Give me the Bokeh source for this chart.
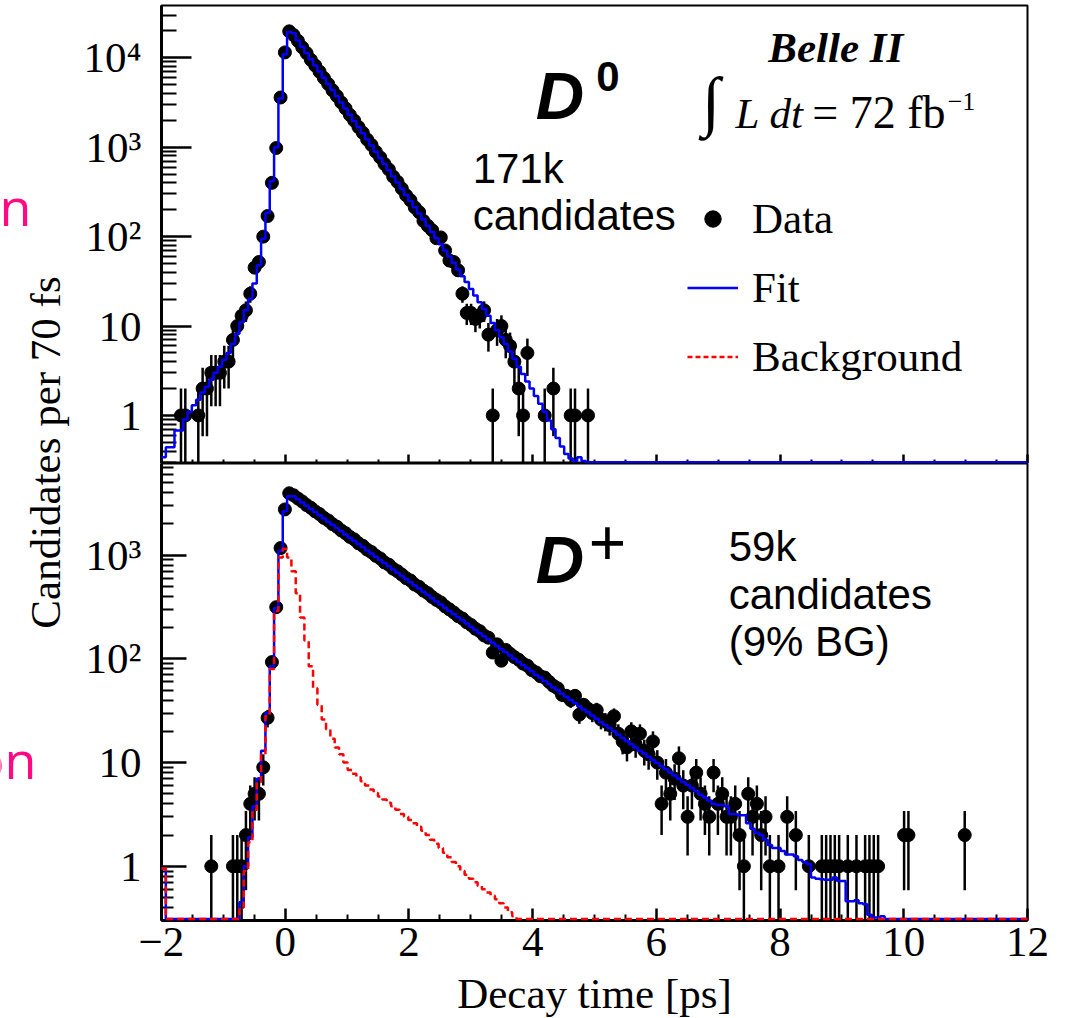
import numpy as np
from bokeh.plotting import figure
from bokeh.layouts import row, column
from bokeh.models import (Range1d, FixedTicker, Label, Legend, LegendItem,
                          ColumnDataSource)
from bokeh.core.properties import value
from bokeh.embed import file_html
from bokeh.resources import INLINE

# ---------------------------------------------------------------- data
t_range = (-2.0, 12.0)          # decay time axis [ps]
bin_width_ps = 0.07             # 70 fs bins
n_bins = 200

# D0 panel: candidates per bin (bins from -2 ps upward)
d0_counts = [
    0, 0, 0, 0, 1, 1, 0, 0, 1, 2,
    2, 3, 3, 3, 4, 4, 7, 10, 13, 15,
    23, 45, 52, 100, 170, 400, 980, 3600, 11500, 19800,
    18000, 15500, 13100, 11300, 9500, 8200, 7000, 5950, 5100, 4330,
    3740, 3170, 2720, 2300, 1990, 1680, 1450, 1220, 1060, 890,
    770, 650, 565, 470, 410, 345, 290, 255, 212, 188,
    150, 132, 118, 96, 98, 70, 54, 52, 42, 23,
    14, 14, 12, 13, 15, 8, 1, 9, 10, 7,
    6, 4, 2, 1, 5, 0, 0, 0, 1, 0,
    2, 0, 0, 0, 1, 1, 0, 0, 1, 0,
]
d0_fit = [
    0.34, 0.44, 0.44, 0.68, 0.68, 0.9, 1.1, 1.3, 1.5, 1.8,
    2.1, 2.5, 3.0, 3.5, 4.2, 5.0, 6.3, 8.2, 11, 15,
    20, 30, 48, 95, 185, 420, 1000, 3500, 11000, 19400,
    18800, 15600, 13300, 11300, 9650, 8230, 7020, 5990, 5110, 4360,
    3720, 3170, 2710, 2310, 1970, 1680, 1430, 1220, 1045, 890,
    760, 650, 553, 472, 403, 344, 293, 250, 213, 182,
    155, 132, 113, 96, 82, 70, 60, 51, 43, 36,
    31, 26, 22, 18.5, 15.5, 13, 10.8, 9.0, 7.5, 6.3,
    5.2, 4.3, 3.5, 2.9, 2.4, 2.0, 1.65, 1.35, 1.1, 0.88,
    0.70, 0.56, 0.45, 0.37, 0.33, 0.31, 0.34, 0.31, 0.26, 0.2,
]
d0_background = []   # below the axis minimum everywhere (lies on the frame bottom)

# D+ panel
dplus_counts = [
    0, 0, 0, 0, 0, 0, 0, 0, 0, 0,
    0, 1, 0, 0, 0, 0, 1, 1, 1, 2,
    4, 5, 5, 9, 27, 93, 315, 1170, 2760, 3950,
    3780, 3520, 3290, 3040, 2860, 2640, 2490, 2290, 2160, 1990,
    1880, 1730, 1630, 1500, 1420, 1300, 1230, 1130, 1070, 985,
    930, 850, 810, 740, 700, 650, 600, 570, 520, 495,
    455, 430, 395, 370, 350, 320, 300, 280, 258, 245,
    225, 212, 195, 185, 168, 160, 115, 138, 96, 122,
    112, 104, 98, 90, 86, 78, 74, 68, 66, 60,
    55, 52, 45, 44, 40, 44, 29, 36, 33, 30,
    32, 26, 25, 23, 28, 19, 16, 14, 20, 15,
    19, 13, 12, 16, 10, 4, 8, 5, 7, 11,
    6, 3, 6, 8, 5, 4, 3, 8, 4, 5,
    3, 3, 4, 2, 1, 5, 3, 4, 2, 3,
    1, 0, 1, 0, 3, 0, 2, 0, 0, 1,
    0, 0, 1, 1, 1, 1, 1, 0, 1, 0,
    1, 0, 1, 1, 1, 1, 0, 0, 0, 0,
    0, 2, 2, 0, 0, 0, 0, 0, 0, 0,
    0, 0, 0, 0, 0, 2, 0, 0, 0, 0,
    0, 0, 0, 0, 0, 0, 0, 0, 0, 0,
]
dplus_fit = [
    0.95, 0, 0, 0, 0, 0, 0, 0, 0, 0,
    0, 0, 0, 0, 0, 0, 0, 0, 0.45, 1.0,
    1.9, 3.8, 7, 13, 30, 85, 310, 1100, 2650, 3700,
    3700, 3450, 3210, 2990, 2790, 2600, 2420, 2260, 2100, 1960,
    1825, 1700, 1585, 1475, 1375, 1280, 1195, 1110, 1035, 965,
    900, 838, 781, 727, 678, 631, 588, 548, 511, 476,
    443, 413, 385, 358, 334, 311, 290, 270, 252, 235,
    219, 204, 190, 177, 165, 154, 143, 133, 124, 116,
    108, 100, 93, 87, 81, 76, 70, 66, 61, 57,
    53, 50, 46, 43, 40, 37.5, 35, 32.5, 30.5, 28.5,
    26.5, 24.5, 23, 21.5, 20, 18.5, 17.3, 16.1, 15, 14,
    13, 12.2, 11.4, 10.6, 9.9, 9.2, 8.6, 8.0, 7.5, 7.0,
    6.5, 6.1, 5.7, 5.3, 4.9, 4.6, 4.3, 4.0, 3.9, 3.9,
    3.8, 3.2, 3.2, 3.1, 3.1, 2.6, 2.3, 2.1, 2.0, 1.8,
    1.6, 1.5, 1.5, 1.4, 1.3, 1.3, 1.25, 1.15, 1.1, 1.05,
    0.78, 0.76, 0.75, 0.74, 0.74, 0.78, 0.72, 0.72, 0.46, 0.46,
    0.47, 0.44, 0.43, 0.34, 0.32, 0.32, 0.33, 0.31, 0.29, 0.27,
]
dplus_background = [
    0.95, 0, 0, 0, 0, 0, 0, 0, 0, 0,
    0, 0, 0, 0, 0, 0, 0, 0, 0.4, 0.9,
    1.7, 3.5, 6.5, 12, 28, 80, 290, 950, 1150, 950,
    700, 430, 250, 150, 85, 52, 36, 26, 21, 17,
    14, 12, 10, 8.5, 7.8, 7.2, 6.6, 6.0, 5.5, 5.1,
    4.7, 4.4, 4.1, 3.8, 3.5, 3.2, 3.0, 2.8, 2.6, 2.4,
    2.2, 2.0, 1.8, 1.65, 1.5, 1.35, 1.22, 1.1, 1.0, 0.9,
    0.83, 0.76, 0.70, 0.65, 0.60, 0.56, 0.52, 0.48, 0.44, 0.40,
    0.36, 0.33, 0.31, 0.29, 0.25,
]

x_ticks = [-2, 0, 2, 4, 6, 8, 10, 12]
x_tick_labels = ["\u22122", "0", "2", "4", "6", "8", "10", "12"]
y_ticks = [1, 10, 100, 1000, 10000]
y_tick_labels = ["1", "10", "10\u00b2", "10\u00b3", "10\u2074"]

# ---------------------------------------------------------------- style
SERIF = "Liberation Serif"
SANS = "Liberation Sans"
BLUE = "#0000ff"
RED = "#ff0000"
PINK = "#ff0a82"
TOP_YLIM = (0.29, 38500)
BOT_YLIM = (0.30, 7650)
FLOOR = 1.035      # histogram values under the axis minimum sit on the frame bottom

edges = t_range[0] + bin_width_ps * np.arange(n_bins + 1)
centers = edges[:-1] + bin_width_ps / 2
x_minor = [v for v in np.arange(-2.0, 12.01, 0.5) if abs(v / 2 - round(v / 2)) > 1e-6]


def minor_log(lo, hi):
    out = []
    for e in range(-1, 6):
        for m in range(2, 10):
            v = m * 10.0 ** e
            if lo <= v <= hi:
                out.append(v)
    return out


def make_panel(frame_h, ylim, border_top, border_bottom, ytick_len, xtick_len):
    p = figure(frame_width=866, frame_height=frame_h, x_range=Range1d(*t_range),
               y_range=Range1d(*ylim), y_axis_type="log",
               output_backend="svg", toolbar_location=None,
               min_border_left=89, min_border_right=41,
               min_border_top=border_top, min_border_bottom=border_bottom)
    p.grid.visible = False
    p.outline_line_color = "black"
    p.outline_line_width = 2
    p.background_fill_color = "white"
    p.border_fill_color = "white"
    ya = p.yaxis[0]
    ya.ticker = FixedTicker(ticks=[t for t in y_ticks if ylim[0] <= t <= ylim[1]],
                            minor_ticks=minor_log(*ylim))
    ya.major_label_overrides = {float(t): s for t, s in zip(y_ticks, y_tick_labels)}
    ya.major_tick_in = ytick_len
    ya.major_tick_out = 0
    ya.minor_tick_in = ytick_len // 2
    ya.minor_tick_out = 0
    ya.axis_line_width = 3
    ya.major_tick_line_width = 2.5
    ya.minor_tick_line_width = 2
    ya.major_label_text_font = SERIF
    ya.major_label_text_font_size = "43px"
    ya.major_label_text_color = "black"
    ya.major_label_standoff = 20
    xa = p.xaxis[0]
    xa.ticker = FixedTicker(ticks=x_ticks, minor_ticks=x_minor)
    xa.major_label_overrides = {float(t): s for t, s in zip(x_ticks, x_tick_labels)}
    xa.major_tick_in = xtick_len
    xa.major_tick_out = 0
    xa.minor_tick_in = xtick_len // 2
    xa.minor_tick_out = 0
    xa.axis_line_width = 3
    xa.major_tick_line_width = 2.5
    xa.minor_tick_line_width = 2
    xa.major_label_text_font = SERIF
    xa.major_label_text_font_size = "43px"
    xa.major_label_text_color = "black"
    return p


def draw_hist(p, vals, ymin, floor=FLOOR, level="overlay", **kw):
    v = np.zeros(n_bins)
    v[:len(vals)] = vals
    v = np.maximum(v, ymin * floor)
    return p.step(edges, np.append(v, v[-1]), mode="after", level=level, **kw)


def draw_data(p, counts, ymin):
    n = np.asarray(counts, dtype=float)
    c = centers[:len(n)]
    m = n > 0
    err = np.sqrt(n[m])
    src = ColumnDataSource(dict(t=c[m], n=n[m],
                                lo=np.maximum(n[m] - err, ymin), hi=n[m] + err))
    p.segment(x0="t", y0="lo", x1="t", y1="hi", source=src,
              line_color="black", line_width=2.5)
    return p.scatter(x="t", y="n", source=src, size=13, color="black")


def add_text(p, x, y, text, font, size, style="normal", align="left",
             baseline="middle", color="black", angle=0):
    p.add_layout(Label(x=x, y=y, text=text, text_font=font, text_font_size=size,
                       text_font_style=style, text_align=align,
                       text_baseline=baseline, text_color=color, angle=angle))


# ---------------------------------------------------------------- top (D0)
top = make_panel(458, TOP_YLIM, 5, 0, 30, 9)
top.xaxis[0].major_label_text_font_size = "1px"
top.xaxis[0].major_label_text_color = None
top.xaxis[0].major_label_standoff = 0

bkg_top = draw_hist(top, d0_background, TOP_YLIM[0], floor=1.0, level="glyph",
                    line_color=RED, line_width=2.5, line_dash="5 3")
dots_top = draw_data(top, d0_counts, TOP_YLIM[0])
fit_top = draw_hist(top, d0_fit, TOP_YLIM[0], line_color=BLUE, line_width=2.5)

legend = Legend(items=[LegendItem(label=value("Data"), renderers=[dots_top]),
                       LegendItem(label=value("Fit"), renderers=[fit_top]),
                       LegendItem(label=value("Background"), renderers=[bkg_top])],
                location=(526, 82), orientation="vertical",
                glyph_width=51, glyph_height=41, label_height=41,
                label_standoff=14, spacing=20, padding=0, margin=0,
                label_text_font=SERIF, label_text_font_size="43px",
                label_text_color="black",
                border_line_color=None, background_fill_alpha=0)
top.add_layout(legend)

add_text(top, 7.81, 12920, "Belle II", SERIF, "43px", style="bold italic")
add_text(top, 6.89, 3333, "\u222b", SERIF, "66px", align="center")
add_text(top, 7.28, 2360, "L dt", SERIF, "43px", style="italic")
add_text(top, 8.52, 2420, "= 72 fb", SERIF, "46px")
add_text(top, 10.71, 3249, "\u22121", SERIF, "26px")
add_text(top, 4.05, 3772, "D", SANS, "67px", style="bold italic")
add_text(top, 5.03, 6230, "0", SANS, "42px", style="bold")
add_text(top, 3.03, 583, "171k", SANS, "42px")
add_text(top, 3.03, 174, "candidates", SANS, "42px")

# ---------------------------------------------------------------- bottom (D+)
bot = make_panel(457, BOT_YLIM, 0, 98, 25, 12)
bot.xaxis[0].major_label_standoff = 7
bot.xaxis[0].axis_label = "Decay time [ps]"
bot.xaxis[0].axis_label_text_font = SERIF
bot.xaxis[0].axis_label_text_font_size = "43px"
bot.xaxis[0].axis_label_text_font_style = "normal"
bot.xaxis[0].axis_label_text_color = "black"
bot.xaxis[0].axis_label_standoff = 11

draw_data(bot, dplus_counts, BOT_YLIM[0])
draw_hist(bot, dplus_fit, BOT_YLIM[0], line_color=BLUE, line_width=2.5)
draw_hist(bot, dplus_background, BOT_YLIM[0], line_color=RED, line_width=2.5,
          line_dash="7 4")

add_text(bot, 4.05, 904, "D", SANS, "67px", style="bold italic")
add_text(bot, 5.21, 1325, "+", SANS, "64px", align="center")
add_text(bot, 7.17, 1220, "59k", SANS, "42px")
add_text(bot, 7.17, 420, "candidates", SANS, "42px")
add_text(bot, 7.17, 148, "(9% BG)", SANS, "42px")

# ---------------------------------------------------------------- side strip
side = figure(width=72, height=1018, x_range=Range1d(0, 72), y_range=Range1d(0, 1018),
              x_axis_location=None, y_axis_location=None, output_backend="svg",
              toolbar_location=None, min_border=0)
side.grid.visible = False
side.outline_line_color = None
add_text(side, 45, 566, "Candidates per 70 fs", SERIF, "43px", align="center",
         angle=np.pi / 2)
add_text(side, -1, 813, "n", "Open Sans", "52px", color=PINK)
add_text(side, 36, 260, "on", "Open Sans", "52px", align="right", color=PINK)

layout = row(side, column(top, bot, spacing=0), spacing=0)
open("out.html", "w").write(file_html(layout, INLINE, title="Decay time"))
